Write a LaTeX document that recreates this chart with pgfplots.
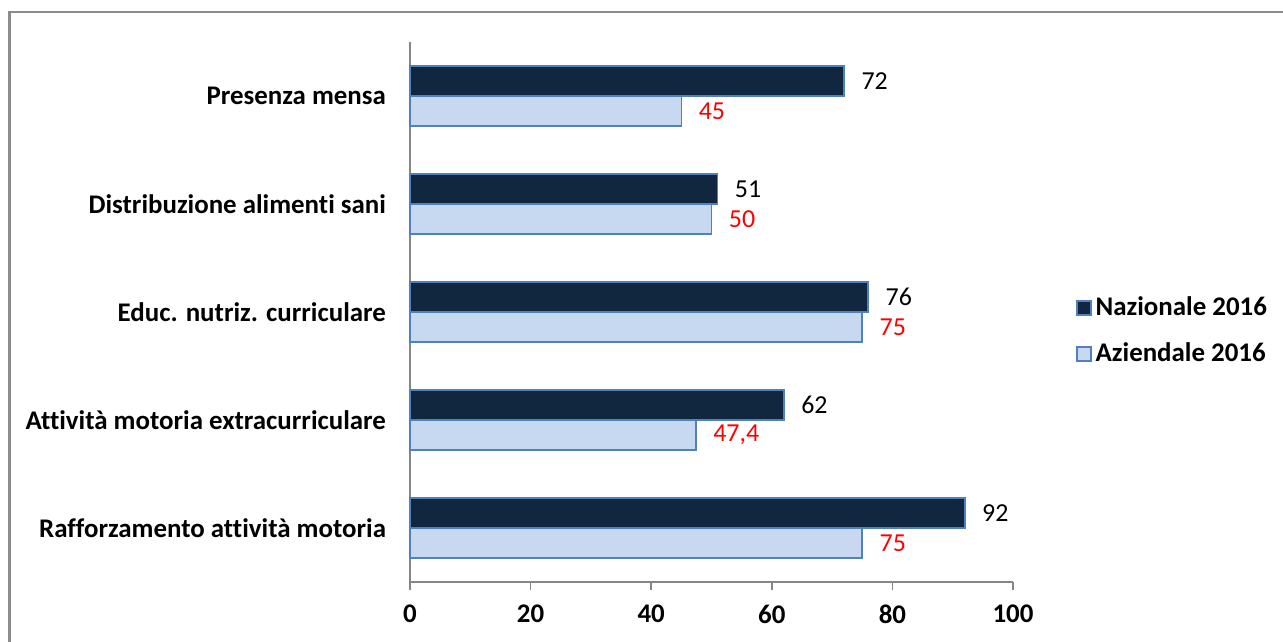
\documentclass[border=0pt]{standalone}
\usepackage{pgfplots}
\pgfplotsset{compat=1.18}
\usepackage{fontspec}
\setmainfont{Carlito}[Ligatures=NoCommon]
\definecolor{navy}{HTML}{11263F}
\definecolor{lightb}{HTML}{C6D9F1}
\definecolor{edgeb}{HTML}{4F81BD}
\definecolor{axgray}{HTML}{868686}
\definecolor{framegray}{HTML}{8C8C8C}
\begin{document}
\begin{tikzpicture}
\useasboundingbox (0,0) rectangle (641.5bp,321bp);
\draw[framegray, line width=1.2bp] (4.75bp,-5bp) -- (4.75bp,315bp) -- (650bp,315bp);
\begin{axis}[
  at={(205bp,30bp)}, anchor=south west,
  scale only axis, width=301.5bp, height=270bp,
  /pgf/number format/assume math mode=true,
  xbar, bar width=0.278,
  xmin=0, xmax=100, ymin=-0.5, ymax=4.5,
  axis x line*=bottom, axis y line*=left,
  axis line style={axgray, line width=0.8bp},
  every tick/.style={axgray, line width=0.8bp},
  tick align=outside,
  xtick={0,20,...,100},
  major tick length=4bp,
  xticklabel style={font=\fontsize{13.5}{16}\selectfont\bfseries, yshift=-4bp},
  ytick={0,...,4},
  yticklabels={Rafforzamento attività motoria, Attività motoria extracurriculare, Educ. nutriz. curriculare, Distribuzione alimenti sani, Presenza mensa},
  yticklabel style={font=\fontsize{13.5}{16}\selectfont\bfseries, xshift=-4.5bp},
  ytick style={draw=none},
  extra y ticks={-0.5,0.5,1.5,2.5,3.5,4.5},
  extra y tick labels={},
  extra y tick style={ytick style={axgray, line width=0.8bp}, major tick length=3bp},
  nodes near coords={\pgfmathprintnumber[use comma]{\pgfplotspointmeta}},
  nodes near coords align={horizontal},
  every node near coord/.append style={font=\fontsize{13}{15}\selectfont, xshift=5bp},
  legend style={draw=none, at={(1.094,0.465)}, anchor=west, font=\fontsize{13.5}{16}\selectfont\bfseries, row sep=8bp, nodes={inner sep=2bp}},
  legend cell align=left,
  legend image code/.code={\draw[#1, line width=0.8bp] (0bp,-3.5bp) rectangle (7bp,3.5bp);},
  clip=false,
]
\addplot[fill=navy, draw=edgeb, line width=0.8bp, bar shift=0.139, every node near coord/.append style={text=black}]
  coordinates {(92,0) (62,1) (76,2) (51,3) (72,4)};
\addplot[fill=lightb, draw=edgeb, line width=0.8bp, bar shift=-0.139, every node near coord/.append style={text=red}]
  coordinates {(75,0) (47.4,1) (75,2) (50,3) (45,4)};
\legend{Nazionale 2016, Aziendale 2016}
\end{axis}
\end{tikzpicture}
\end{document}
